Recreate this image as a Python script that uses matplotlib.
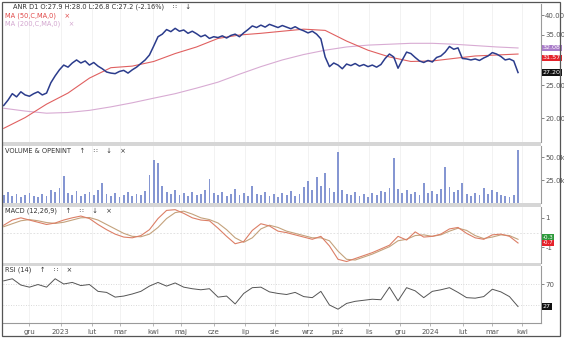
import numpy as np
import pandas as pd
import matplotlib
matplotlib.use("Agg")
import matplotlib.pyplot as plt
from matplotlib.patches import Rectangle
from matplotlib.ticker import NullLocator

# ANR daily, 2022-11-07 .. 2024-03-27 (business days)
start_date = "2022-11-07"
end_date = "2024-03-27"

# close, sampled every ~3 sessions
price = [21.8, 22.6, 23.6, 23.1, 23.9, 23.4, 23.2, 23.6, 23.9, 23.4,
         23.7, 25.4, 26.6, 27.7, 28.6, 28.2, 29.0, 29.6, 29.0, 29.4,
         28.6, 29.1, 28.4, 27.9, 27.3, 27.1, 27.0, 27.4, 27.6, 27.1,
         27.7, 28.2, 28.9, 29.6, 30.6, 32.5, 34.6, 35.2, 36.3, 35.8,
         36.6, 35.9, 36.2, 35.4, 35.9, 35.3, 34.6, 35.0, 34.2, 34.6,
         34.4, 34.8, 34.3, 34.9, 35.2, 34.6, 35.5, 36.3, 37.2, 36.8,
         37.4, 36.9, 37.6, 37.2, 36.8, 37.3, 36.9, 36.5, 37.0, 36.4,
         36.0, 35.5, 35.9, 35.2, 34.1, 30.2, 28.3, 29.0, 28.6, 27.9,
         28.8, 28.5, 28.9, 28.4, 28.7, 28.3, 28.6, 28.2, 28.7, 29.9,
         30.8, 30.2, 28.0, 29.6, 31.2, 30.9, 30.1, 29.4, 29.1, 29.5,
         29.2, 30.1, 30.4, 31.2, 32.4, 31.8, 32.1, 29.9, 29.8, 29.6,
         29.8, 29.5, 30.0, 30.4, 31.1, 30.8, 30.3, 29.6, 29.8, 29.4,
         27.2]

# volume in thousands, same sampling as price
volume = [9, 12, 8, 10, 7, 9, 11, 8, 6, 10,
          8, 14, 12, 16, 29, 11, 9, 13, 8, 10,
          12, 9, 14, 22, 10, 8, 11, 7, 9, 12,
          8, 10, 9, 13, 30, 47, 44, 18, 12, 10,
          14, 9, 11, 8, 12, 9, 10, 14, 26, 11,
          9, 12, 8, 10, 15, 9, 11, 8, 18, 10,
          9, 12, 8, 10, 7, 11, 9, 13, 8, 10,
          17, 24, 14, 28, 19, 33, 16, 12, 55, 14,
          10, 9, 12, 8, 10, 7, 11, 9, 13, 12,
          16, 49, 15, 11, 14, 10, 12, 9, 22, 11,
          13, 10, 15, 39, 17, 12, 14, 22, 10, 8,
          11, 9, 16, 10, 14, 12, 9, 8, 7, 9,
          58]

# moving averages, sampled every ~15 sessions
ma50 = [18.7, 20.1, 22.0, 23.7, 26.2, 28.1, 28.4, 29.3, 30.9, 32.3,
        34.2, 35.0, 35.4, 35.9, 36.4, 36.1, 33.6, 31.6, 30.2, 29.3,
        29.4, 29.9, 30.4, 30.6, 30.8]
ma200 = [21.4, 21.0, 20.7, 20.8, 21.1, 21.6, 22.2, 22.9, 23.6, 24.5,
         25.5, 26.9, 28.3, 29.6, 30.7, 31.6, 32.3, 32.7, 32.9, 33.1,
         33.1, 32.9, 32.6, 32.3, 32.08]

# MACD (12,26,9), sampled every 6 sessions
macd = [0.50, 0.85, 1.00, 0.85, 0.70, 0.55, 0.65, 0.85, 1.00, 1.12,
        0.95, 0.55, 0.20, -0.10, -0.30, -0.35, -0.20, 0.20, 0.95, 1.50,
        1.55, 1.30, 1.00, 0.85, 0.80, 0.30, -0.25, -0.75, -0.60, 0.15,
        0.60, 0.45, 0.10, 0.00, -0.15, -0.30, -0.45, -0.25, -0.90, -1.80,
        -1.95, -1.75, -1.55, -1.35, -1.10, -0.85, -0.25, -0.50, 0.05, -0.30,
        -0.25, -0.10, 0.25, 0.35, -0.05, -0.35, -0.45, -0.15, -0.10, -0.25,
        -0.70]
signal = [0.40, 0.60, 0.80, 0.88, 0.80, 0.68, 0.62, 0.70, 0.85, 1.00,
          1.02, 0.85, 0.55, 0.25, -0.05, -0.25, -0.28, -0.10, 0.35, 0.95,
          1.35, 1.45, 1.25, 1.00, 0.88, 0.65, 0.20, -0.35, -0.65, -0.35,
          0.25, 0.50, 0.35, 0.10, -0.05, -0.20, -0.35, -0.35, -0.55, -1.25,
          -1.80, -1.85, -1.65, -1.45, -1.20, -0.95, -0.55, -0.45, -0.20, -0.15,
          -0.25, -0.15, 0.10, 0.30, 0.15, -0.20, -0.40, -0.30, -0.15, -0.20,
          -0.45]

# RSI (14), sampled every 6 sessions
rsi = [76, 80, 68, 64, 69, 64, 80, 70, 73, 67,
       69, 56, 54, 45, 47, 51, 56, 66, 73, 66,
       72, 64, 61, 59, 61, 45, 47, 32, 52, 63,
       64, 55, 52, 50, 54, 46, 44, 56, 30, 22,
       33, 37, 39, 41, 40, 64, 38, 63, 57, 44,
       56, 59, 63, 54, 44, 43, 46, 60, 55, 46,
       27]

month_labels = ["gru", "2023", "lut", "mar", "kwi", "maj", "cze", "lip", "sie",
                "wrz", "paź", "lis", "gru", "2024", "lut", "mar", "kwi"]

W, H = 564, 342
fig = plt.figure(figsize=(W / 100, H / 100), dpi=100)


def px_box(x0, y0, x1, y1):
    return [x0 / W, 1 - y1 / H, (x1 - x0) / W, (y1 - y0) / H]


days = pd.bdate_range(start_date, end_date)
n = len(days)
all_days = pd.bdate_range(start_date, "2024-04-30")
month_starts = pd.date_range("2022-12-01", "2024-04-01", freq="MS")
tick_pos = all_days.searchsorted(month_starts)
xmax = (n - 1) * 538 / 515

GREY = "#555555"


def setup(ax):
    ax.set_xlim(-0.5, xmax)
    for s in ["top", "left", "bottom"]:
        ax.spines[s].set_visible(False)
    ax.spines["right"].set_color("#9a9a9a")
    ax.spines["right"].set_linewidth(0.8)
    ax.yaxis.tick_right()
    ax.tick_params(axis="y", length=2, width=0.5, labelsize=5, colors=GREY, pad=1)
    ax.tick_params(axis="x", length=0, labelbottom=False)
    ax.set_xticks(tick_pos)
    for p in tick_pos:
        ax.axvline(p, color="#f0f0f0", lw=0.6, zorder=0)


def tag(ax, y, text, color, dy=0, size=4.6):
    ax.annotate(text, xy=(1, y), xycoords=("axes fraction", "data"),
                xytext=(1.2, dy), textcoords="offset points",
                fontsize=size, color="white", va="center", ha="left",
                bbox=dict(boxstyle="square,pad=0.15", fc=color, ec="none"),
                annotation_clip=False, zorder=10)


# price panel
ax1 = fig.add_axes(px_box(3, 4, 541, 142))
setup(ax1)
ax1.set_yscale("log")
ax1.set_ylim(17.06, 43.1)
ax1.yaxis.set_minor_locator(NullLocator())
ax1.set_yticks([20, 25, 35, 40])
ax1.set_yticklabels(["20.00", "25.00", "35.00", "40.00"])
ax1.plot(np.linspace(0, n - 1, len(ma200)), ma200, color="#d8abd3", lw=0.8)
ax1.plot(np.linspace(0, n - 1, len(ma50)), ma50, color="#e06060", lw=0.8)
ax1.plot(np.linspace(0, n - 1, len(price)), price, color="#2b3c8c", lw=1.1)
tag(ax1, ma200[-1], "32.08", "#a97cc9")
tag(ax1, 31.57, "31.57", "#e5222b", dy=-5.5)
tag(ax1, price[-1], "27.20", "#111111")

# volume panel
ax2 = fig.add_axes(px_box(3, 146, 541, 203))
setup(ax2)
ax2.set_ylim(0, 62)
ax2.set_yticks([25, 50])
ax2.set_yticklabels(["25.0k", "50.0k"])
ax2.bar(np.linspace(0, n - 1, len(volume)), volume, width=1.3, color="#8596d2", lw=0)

# MACD panel
ax3 = fig.add_axes(px_box(3, 207, 541, 263))
setup(ax3)
ax3.set_ylim(-2.05, 1.73)
ax3.set_yticks([-1, 1])
ax3.set_yticklabels(["-1", "1"])
ax3.axhline(0, color="#dddddd", lw=0.6, ls=(0, (2, 2)), zorder=0)
xm = np.linspace(0, n - 1, len(macd))
ax3.plot(xm, signal, color="#c4a27c", lw=0.8)
ax3.plot(xm, macd, color="#dc7f66", lw=0.8)
tag(ax3, -0.3, "-0.3", "#2e9a3c", size=4)
tag(ax3, -0.7, "-0.7", "#e5222b", size=4)

# RSI panel
ax4 = fig.add_axes(px_box(3, 266, 541, 323))
setup(ax4)
ax4.set_ylim(-4.3, 104.3)
ax4.set_yticks([70])
ax4.axhline(70, color="#cccccc", lw=0.6, ls=(0, (1, 2)), zorder=0)
ax4.axhline(30, color="#cccccc", lw=0.6, ls=(0, (1, 2)), zorder=0)
ax4.plot(np.linspace(0, n - 1, len(rsi)), rsi, color="#555555", lw=0.7)
tag(ax4, rsi[-1], "27", "#111111")
ax4.spines["bottom"].set_visible(True)
ax4.spines["bottom"].set_color("#9a9a9a")
ax4.spines["bottom"].set_linewidth(0.8)
ax4.tick_params(axis="x", length=2, width=0.5, colors="#9a9a9a",
                labelbottom=True, labelsize=5, labelcolor=GREY, pad=2)
ax4.set_xticklabels(month_labels)

# panel separators and outer frame
for y0, y1 in [(142, 146), (203, 207), (263, 266)]:
    fig.add_artist(Rectangle((3 / W, 1 - y1 / H), 538 / W, (y1 - y0) / H,
                             transform=fig.transFigure, fc="#d6d6d6", ec="none"))
fig.add_artist(Rectangle((2 / W, 1 - 336 / H), 558 / W, 334 / H,
                         transform=fig.transFigure, fill=False, ec="#555555", lw=0.9))

# panel titles
def title(x, y, s, color="#333333"):
    fig.text(x / W, 1 - y / H, s, fontsize=4.8, color=color, va="center", ha="left")


title(13, 7, "ANR D1 O:27.9 H:28.0 L:26.8 C:27.2 (-2.16%)    ∷    ↓")
title(5, 15.5, "MA (50,C,MA,0)    ×", "#e04848")
title(5, 23.5, "MA (200,C,MA,0)    ×", "#d3a6cf")
title(5, 151, "VOLUME & OPENINT    ↑    ∷    ↓    ×")
title(5, 211, "MACD (12,26,9)    ↑    ∷    ↓    ×")
title(5, 270, "RSI (14)    ↑    ∷    ×")

fig.savefig("out.png", dpi=100)
